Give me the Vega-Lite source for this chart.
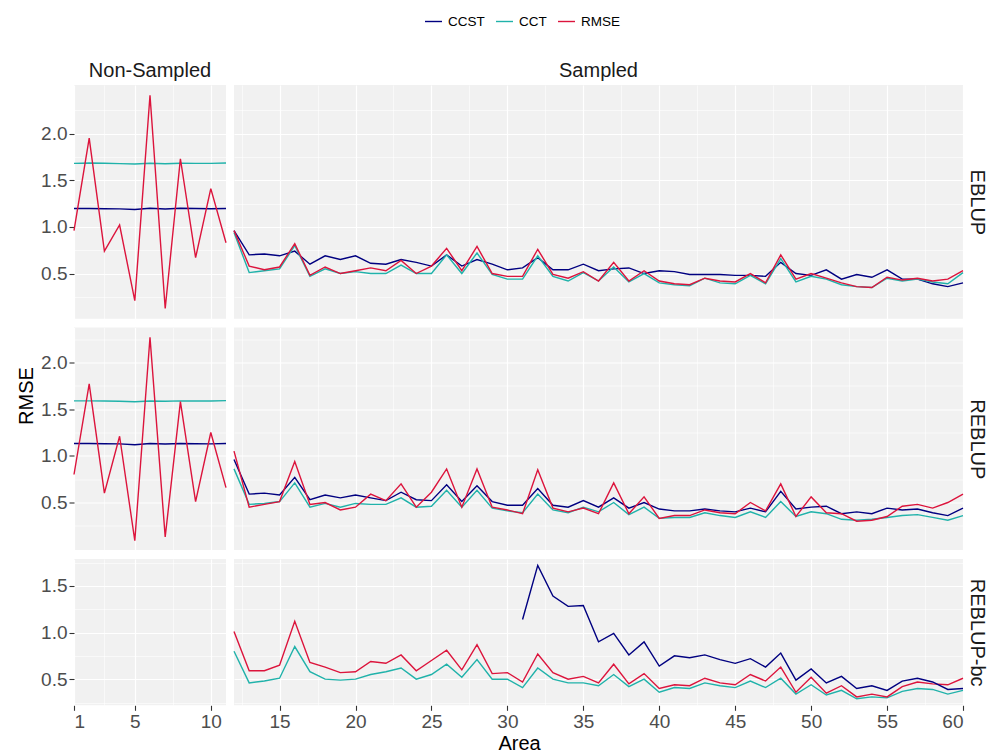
{
  "$schema": "https://vega.github.io/schema/vega-lite/v6.json",
  "background": "white",
  "padding": {"left": 16, "top": 12, "right": 4, "bottom": 2},
  "columns": 2,
  "align": "each",
  "bounds": "flush",
  "spacing": {"row": 8.5, "column": 8},
  "resolve": {"scale": {"x": "independent", "y": "independent"}},
  "config": {
    "font": "Liberation Sans",
    "view": {"fill": "#F1F1F1", "stroke": null},
    "axis": {
      "domain": false,
      "labelFont": "Liberation Sans",
      "labelFontSize": 19,
      "labelColor": "#4D4D4D",
      "labelOverlap": false,
      "labelPadding": 2,
      "tickColor": "#333333",
      "tickSize": 5,
      "tickWidth": 1.1,
      "gridColor": "#FFFFFF",
      "titleFont": "Liberation Sans",
      "titleFontSize": 20,
      "titleFontWeight": "normal",
      "titleColor": "#000000"
    },
    "title": {"font": "Liberation Sans", "fontSize": 20, "fontWeight": "normal", "color": "#1A1A1A", "anchor": "middle", "frame": "group", "offset": 4},
    "line": {"strokeWidth": 1.4}
  },
  "datasets": {
    "EBLUP": [
      {"a":1,"s":"CCST","v":1.196},{"a":1,"s":"CCT","v":1.68},{"a":1,"s":"RMSE","v":0.96},
      {"a":2,"s":"CCST","v":1.196},{"a":2,"s":"CCT","v":1.684},{"a":2,"s":"RMSE","v":1.95},
      {"a":3,"s":"CCST","v":1.194},{"a":3,"s":"CCT","v":1.682},{"a":3,"s":"RMSE","v":0.74},
      {"a":4,"s":"CCST","v":1.193},{"a":4,"s":"CCT","v":1.678},{"a":4,"s":"RMSE","v":1.02},
      {"a":5,"s":"CCST","v":1.186},{"a":5,"s":"CCT","v":1.674},{"a":5,"s":"RMSE","v":0.21},
      {"a":6,"s":"CCST","v":1.2},{"a":6,"s":"CCT","v":1.682},{"a":6,"s":"RMSE","v":2.41},
      {"a":7,"s":"CCST","v":1.192},{"a":7,"s":"CCT","v":1.676},{"a":7,"s":"RMSE","v":0.125},
      {"a":8,"s":"CCST","v":1.2},{"a":8,"s":"CCT","v":1.682},{"a":8,"s":"RMSE","v":1.73},
      {"a":9,"s":"CCST","v":1.196},{"a":9,"s":"CCT","v":1.68},{"a":9,"s":"RMSE","v":0.67},
      {"a":10,"s":"CCST","v":1.194},{"a":10,"s":"CCT","v":1.68},{"a":10,"s":"RMSE","v":1.41},
      {"a":11,"s":"CCST","v":1.196},{"a":11,"s":"CCT","v":1.684},{"a":11,"s":"RMSE","v":0.83},
      {"a":12,"s":"CCST","v":0.96},{"a":12,"s":"CCT","v":0.94},{"a":12,"s":"RMSE","v":0.96},
      {"a":13,"s":"CCST","v":0.7},{"a":13,"s":"CCT","v":0.51},{"a":13,"s":"RMSE","v":0.58},
      {"a":14,"s":"CCST","v":0.71},{"a":14,"s":"CCT","v":0.53},{"a":14,"s":"RMSE","v":0.54},
      {"a":15,"s":"CCST","v":0.69},{"a":15,"s":"CCT","v":0.55},{"a":15,"s":"RMSE","v":0.57},
      {"a":16,"s":"CCST","v":0.74},{"a":16,"s":"CCT","v":0.8},{"a":16,"s":"RMSE","v":0.82},
      {"a":17,"s":"CCST","v":0.6},{"a":17,"s":"CCT","v":0.47},{"a":17,"s":"RMSE","v":0.48},
      {"a":18,"s":"CCST","v":0.69},{"a":18,"s":"CCT","v":0.55},{"a":18,"s":"RMSE","v":0.57},
      {"a":19,"s":"CCST","v":0.65},{"a":19,"s":"CCT","v":0.5},{"a":19,"s":"RMSE","v":0.5},
      {"a":20,"s":"CCST","v":0.69},{"a":20,"s":"CCT","v":0.52},{"a":20,"s":"RMSE","v":0.53},
      {"a":21,"s":"CCST","v":0.61},{"a":21,"s":"CCT","v":0.5},{"a":21,"s":"RMSE","v":0.56},
      {"a":22,"s":"CCST","v":0.6},{"a":22,"s":"CCT","v":0.5},{"a":22,"s":"RMSE","v":0.53},
      {"a":23,"s":"CCST","v":0.65},{"a":23,"s":"CCT","v":0.59},{"a":23,"s":"RMSE","v":0.64},
      {"a":24,"s":"CCST","v":0.62},{"a":24,"s":"CCT","v":0.5},{"a":24,"s":"RMSE","v":0.5},
      {"a":25,"s":"CCST","v":0.58},{"a":25,"s":"CCT","v":0.5},{"a":25,"s":"RMSE","v":0.58},
      {"a":26,"s":"CCST","v":0.7},{"a":26,"s":"CCT","v":0.7},{"a":26,"s":"RMSE","v":0.77},
      {"a":27,"s":"CCST","v":0.58},{"a":27,"s":"CCT","v":0.5},{"a":27,"s":"RMSE","v":0.53},
      {"a":28,"s":"CCST","v":0.65},{"a":28,"s":"CCT","v":0.72},{"a":28,"s":"RMSE","v":0.79},
      {"a":29,"s":"CCST","v":0.6},{"a":29,"s":"CCT","v":0.49},{"a":29,"s":"RMSE","v":0.5},
      {"a":30,"s":"CCST","v":0.54},{"a":30,"s":"CCT","v":0.44},{"a":30,"s":"RMSE","v":0.47},
      {"a":31,"s":"CCST","v":0.56},{"a":31,"s":"CCT","v":0.44},{"a":31,"s":"RMSE","v":0.47},
      {"a":32,"s":"CCST","v":0.67},{"a":32,"s":"CCT","v":0.69},{"a":32,"s":"RMSE","v":0.76},
      {"a":33,"s":"CCST","v":0.54},{"a":33,"s":"CCT","v":0.47},{"a":33,"s":"RMSE","v":0.49},
      {"a":34,"s":"CCST","v":0.54},{"a":34,"s":"CCT","v":0.42},{"a":34,"s":"RMSE","v":0.45},
      {"a":35,"s":"CCST","v":0.6},{"a":35,"s":"CCT","v":0.51},{"a":35,"s":"RMSE","v":0.52},
      {"a":36,"s":"CCST","v":0.53},{"a":36,"s":"CCT","v":0.42},{"a":36,"s":"RMSE","v":0.42},
      {"a":37,"s":"CCST","v":0.55},{"a":37,"s":"CCT","v":0.57},{"a":37,"s":"RMSE","v":0.62},
      {"a":38,"s":"CCST","v":0.56},{"a":38,"s":"CCT","v":0.41},{"a":38,"s":"RMSE","v":0.42},
      {"a":39,"s":"CCST","v":0.5},{"a":39,"s":"CCT","v":0.5},{"a":39,"s":"RMSE","v":0.53},
      {"a":40,"s":"CCST","v":0.53},{"a":40,"s":"CCT","v":0.4},{"a":40,"s":"RMSE","v":0.42},
      {"a":41,"s":"CCST","v":0.52},{"a":41,"s":"CCT","v":0.38},{"a":41,"s":"RMSE","v":0.39},
      {"a":42,"s":"CCST","v":0.49},{"a":42,"s":"CCT","v":0.37},{"a":42,"s":"RMSE","v":0.38},
      {"a":43,"s":"CCST","v":0.49},{"a":43,"s":"CCT","v":0.45},{"a":43,"s":"RMSE","v":0.45},
      {"a":44,"s":"CCST","v":0.49},{"a":44,"s":"CCT","v":0.4},{"a":44,"s":"RMSE","v":0.42},
      {"a":45,"s":"CCST","v":0.48},{"a":45,"s":"CCT","v":0.39},{"a":45,"s":"RMSE","v":0.41},
      {"a":46,"s":"CCST","v":0.48},{"a":46,"s":"CCT","v":0.48},{"a":46,"s":"RMSE","v":0.5},
      {"a":47,"s":"CCST","v":0.47},{"a":47,"s":"CCT","v":0.39},{"a":47,"s":"RMSE","v":0.4},
      {"a":48,"s":"CCST","v":0.62},{"a":48,"s":"CCT","v":0.66},{"a":48,"s":"RMSE","v":0.7},
      {"a":49,"s":"CCST","v":0.5},{"a":49,"s":"CCT","v":0.41},{"a":49,"s":"RMSE","v":0.44},
      {"a":50,"s":"CCST","v":0.48},{"a":50,"s":"CCT","v":0.47},{"a":50,"s":"RMSE","v":0.5},
      {"a":51,"s":"CCST","v":0.54},{"a":51,"s":"CCT","v":0.44},{"a":51,"s":"RMSE","v":0.45},
      {"a":52,"s":"CCST","v":0.44},{"a":52,"s":"CCT","v":0.38},{"a":52,"s":"RMSE","v":0.4},
      {"a":53,"s":"CCST","v":0.49},{"a":53,"s":"CCT","v":0.36},{"a":53,"s":"RMSE","v":0.36},
      {"a":54,"s":"CCST","v":0.46},{"a":54,"s":"CCT","v":0.35},{"a":54,"s":"RMSE","v":0.35},
      {"a":55,"s":"CCST","v":0.54},{"a":55,"s":"CCT","v":0.45},{"a":55,"s":"RMSE","v":0.46},
      {"a":56,"s":"CCST","v":0.44},{"a":56,"s":"CCT","v":0.42},{"a":56,"s":"RMSE","v":0.43},
      {"a":57,"s":"CCST","v":0.44},{"a":57,"s":"CCT","v":0.44},{"a":57,"s":"RMSE","v":0.45},
      {"a":58,"s":"CCST","v":0.39},{"a":58,"s":"CCT","v":0.41},{"a":58,"s":"RMSE","v":0.42},
      {"a":59,"s":"CCST","v":0.36},{"a":59,"s":"CCT","v":0.39},{"a":59,"s":"RMSE","v":0.44},
      {"a":60,"s":"CCST","v":0.4},{"a":60,"s":"CCT","v":0.51},{"a":60,"s":"RMSE","v":0.53}
    ],
    "REBLUP": [
      {"a":1,"s":"CCST","v":1.132},{"a":1,"s":"CCT","v":1.589},{"a":1,"s":"RMSE","v":0.8},
      {"a":2,"s":"CCST","v":1.132},{"a":2,"s":"CCT","v":1.589},{"a":2,"s":"RMSE","v":1.77},
      {"a":3,"s":"CCST","v":1.13},{"a":3,"s":"CCT","v":1.587},{"a":3,"s":"RMSE","v":0.6},
      {"a":4,"s":"CCST","v":1.128},{"a":4,"s":"CCT","v":1.585},{"a":4,"s":"RMSE","v":1.21},
      {"a":5,"s":"CCST","v":1.118},{"a":5,"s":"CCT","v":1.58},{"a":5,"s":"RMSE","v":0.09},
      {"a":6,"s":"CCST","v":1.132},{"a":6,"s":"CCT","v":1.587},{"a":6,"s":"RMSE","v":2.27},
      {"a":7,"s":"CCST","v":1.126},{"a":7,"s":"CCT","v":1.585},{"a":7,"s":"RMSE","v":0.13},
      {"a":8,"s":"CCST","v":1.132},{"a":8,"s":"CCT","v":1.589},{"a":8,"s":"RMSE","v":1.58},
      {"a":9,"s":"CCST","v":1.13},{"a":9,"s":"CCT","v":1.587},{"a":9,"s":"RMSE","v":0.51},
      {"a":10,"s":"CCST","v":1.128},{"a":10,"s":"CCT","v":1.587},{"a":10,"s":"RMSE","v":1.25},
      {"a":11,"s":"CCST","v":1.132},{"a":11,"s":"CCT","v":1.591},{"a":11,"s":"RMSE","v":0.66},
      {"a":12,"s":"CCST","v":0.96},{"a":12,"s":"CCT","v":0.86},{"a":12,"s":"RMSE","v":1.05},
      {"a":13,"s":"CCST","v":0.59},{"a":13,"s":"CCT","v":0.48},{"a":13,"s":"RMSE","v":0.45},
      {"a":14,"s":"CCST","v":0.6},{"a":14,"s":"CCT","v":0.49},{"a":14,"s":"RMSE","v":0.48},
      {"a":15,"s":"CCST","v":0.58},{"a":15,"s":"CCT","v":0.51},{"a":15,"s":"RMSE","v":0.51},
      {"a":16,"s":"CCST","v":0.77},{"a":16,"s":"CCT","v":0.71},{"a":16,"s":"RMSE","v":0.94},
      {"a":17,"s":"CCST","v":0.53},{"a":17,"s":"CCT","v":0.45},{"a":17,"s":"RMSE","v":0.48},
      {"a":18,"s":"CCST","v":0.58},{"a":18,"s":"CCT","v":0.49},{"a":18,"s":"RMSE","v":0.5},
      {"a":19,"s":"CCST","v":0.55},{"a":19,"s":"CCT","v":0.45},{"a":19,"s":"RMSE","v":0.42},
      {"a":20,"s":"CCST","v":0.58},{"a":20,"s":"CCT","v":0.49},{"a":20,"s":"RMSE","v":0.45},
      {"a":21,"s":"CCST","v":0.55},{"a":21,"s":"CCT","v":0.48},{"a":21,"s":"RMSE","v":0.59},
      {"a":22,"s":"CCST","v":0.52},{"a":22,"s":"CCT","v":0.48},{"a":22,"s":"RMSE","v":0.52},
      {"a":23,"s":"CCST","v":0.61},{"a":23,"s":"CCT","v":0.55},{"a":23,"s":"RMSE","v":0.7},
      {"a":24,"s":"CCST","v":0.53},{"a":24,"s":"CCT","v":0.45},{"a":24,"s":"RMSE","v":0.45},
      {"a":25,"s":"CCST","v":0.52},{"a":25,"s":"CCT","v":0.46},{"a":25,"s":"RMSE","v":0.61},
      {"a":26,"s":"CCST","v":0.69},{"a":26,"s":"CCT","v":0.63},{"a":26,"s":"RMSE","v":0.86},
      {"a":27,"s":"CCST","v":0.51},{"a":27,"s":"CCT","v":0.45},{"a":27,"s":"RMSE","v":0.45},
      {"a":28,"s":"CCST","v":0.68},{"a":28,"s":"CCT","v":0.63},{"a":28,"s":"RMSE","v":0.86},
      {"a":29,"s":"CCST","v":0.51},{"a":29,"s":"CCT","v":0.44},{"a":29,"s":"RMSE","v":0.45},
      {"a":30,"s":"CCST","v":0.47},{"a":30,"s":"CCT","v":0.41},{"a":30,"s":"RMSE","v":0.42},
      {"a":31,"s":"CCST","v":0.47},{"a":31,"s":"CCT","v":0.39},{"a":31,"s":"RMSE","v":0.38},
      {"a":32,"s":"CCST","v":0.65},{"a":32,"s":"CCT","v":0.59},{"a":32,"s":"RMSE","v":0.85},
      {"a":33,"s":"CCST","v":0.47},{"a":33,"s":"CCT","v":0.42},{"a":33,"s":"RMSE","v":0.44},
      {"a":34,"s":"CCST","v":0.45},{"a":34,"s":"CCT","v":0.39},{"a":34,"s":"RMSE","v":0.4},
      {"a":35,"s":"CCST","v":0.52},{"a":35,"s":"CCT","v":0.45},{"a":35,"s":"RMSE","v":0.44},
      {"a":36,"s":"CCST","v":0.45},{"a":36,"s":"CCT","v":0.4},{"a":36,"s":"RMSE","v":0.38},
      {"a":37,"s":"CCST","v":0.55},{"a":37,"s":"CCT","v":0.5},{"a":37,"s":"RMSE","v":0.71},
      {"a":38,"s":"CCST","v":0.44},{"a":38,"s":"CCT","v":0.37},{"a":38,"s":"RMSE","v":0.38},
      {"a":39,"s":"CCST","v":0.5},{"a":39,"s":"CCT","v":0.45},{"a":39,"s":"RMSE","v":0.56},
      {"a":40,"s":"CCST","v":0.43},{"a":40,"s":"CCT","v":0.33},{"a":40,"s":"RMSE","v":0.33},
      {"a":41,"s":"CCST","v":0.41},{"a":41,"s":"CCT","v":0.34},{"a":41,"s":"RMSE","v":0.36},
      {"a":42,"s":"CCST","v":0.41},{"a":42,"s":"CCT","v":0.34},{"a":42,"s":"RMSE","v":0.36},
      {"a":43,"s":"CCST","v":0.43},{"a":43,"s":"CCT","v":0.39},{"a":43,"s":"RMSE","v":0.42},
      {"a":44,"s":"CCST","v":0.41},{"a":44,"s":"CCT","v":0.36},{"a":44,"s":"RMSE","v":0.39},
      {"a":45,"s":"CCST","v":0.4},{"a":45,"s":"CCT","v":0.34},{"a":45,"s":"RMSE","v":0.38},
      {"a":46,"s":"CCST","v":0.44},{"a":46,"s":"CCT","v":0.4},{"a":46,"s":"RMSE","v":0.5},
      {"a":47,"s":"CCST","v":0.4},{"a":47,"s":"CCT","v":0.34},{"a":47,"s":"RMSE","v":0.41},
      {"a":48,"s":"CCST","v":0.62},{"a":48,"s":"CCT","v":0.51},{"a":48,"s":"RMSE","v":0.7},
      {"a":49,"s":"CCST","v":0.43},{"a":49,"s":"CCT","v":0.35},{"a":49,"s":"RMSE","v":0.35},
      {"a":50,"s":"CCST","v":0.45},{"a":50,"s":"CCT","v":0.4},{"a":50,"s":"RMSE","v":0.56},
      {"a":51,"s":"CCST","v":0.46},{"a":51,"s":"CCT","v":0.38},{"a":51,"s":"RMSE","v":0.39},
      {"a":52,"s":"CCST","v":0.38},{"a":52,"s":"CCT","v":0.32},{"a":52,"s":"RMSE","v":0.38},
      {"a":53,"s":"CCST","v":0.4},{"a":53,"s":"CCT","v":0.31},{"a":53,"s":"RMSE","v":0.3},
      {"a":54,"s":"CCST","v":0.38},{"a":54,"s":"CCT","v":0.32},{"a":54,"s":"RMSE","v":0.31},
      {"a":55,"s":"CCST","v":0.44},{"a":55,"s":"CCT","v":0.34},{"a":55,"s":"RMSE","v":0.35},
      {"a":56,"s":"CCST","v":0.42},{"a":56,"s":"CCT","v":0.36},{"a":56,"s":"RMSE","v":0.46},
      {"a":57,"s":"CCST","v":0.43},{"a":57,"s":"CCT","v":0.37},{"a":57,"s":"RMSE","v":0.48},
      {"a":58,"s":"CCST","v":0.39},{"a":58,"s":"CCT","v":0.34},{"a":58,"s":"RMSE","v":0.44},
      {"a":59,"s":"CCST","v":0.36},{"a":59,"s":"CCT","v":0.31},{"a":59,"s":"RMSE","v":0.5},
      {"a":60,"s":"CCST","v":0.44},{"a":60,"s":"CCT","v":0.36},{"a":60,"s":"RMSE","v":0.59}
    ],
    "REBLUPbc": [
      {"a":12,"s":"CCT","v":0.8},{"a":12,"s":"RMSE","v":1.01},
      {"a":13,"s":"CCT","v":0.46},{"a":13,"s":"RMSE","v":0.59},
      {"a":14,"s":"CCT","v":0.48},{"a":14,"s":"RMSE","v":0.59},
      {"a":15,"s":"CCT","v":0.51},{"a":15,"s":"RMSE","v":0.65},
      {"a":16,"s":"CCT","v":0.85},{"a":16,"s":"RMSE","v":1.12},
      {"a":17,"s":"CCT","v":0.58},{"a":17,"s":"RMSE","v":0.68},
      {"a":18,"s":"CCT","v":0.5},{"a":18,"s":"RMSE","v":0.63},
      {"a":19,"s":"CCT","v":0.49},{"a":19,"s":"RMSE","v":0.57},
      {"a":20,"s":"CCT","v":0.5},{"a":20,"s":"RMSE","v":0.58},
      {"a":21,"s":"CCT","v":0.55},{"a":21,"s":"RMSE","v":0.69},
      {"a":22,"s":"CCT","v":0.58},{"a":22,"s":"RMSE","v":0.67},
      {"a":23,"s":"CCT","v":0.62},{"a":23,"s":"RMSE","v":0.76},
      {"a":24,"s":"CCT","v":0.5},{"a":24,"s":"RMSE","v":0.59},
      {"a":25,"s":"CCT","v":0.55},{"a":25,"s":"RMSE","v":0.7},
      {"a":26,"s":"CCT","v":0.66},{"a":26,"s":"RMSE","v":0.81},
      {"a":27,"s":"CCT","v":0.52},{"a":27,"s":"RMSE","v":0.6},
      {"a":28,"s":"CCT","v":0.71},{"a":28,"s":"RMSE","v":0.87},
      {"a":29,"s":"CCT","v":0.5},{"a":29,"s":"RMSE","v":0.56},
      {"a":30,"s":"CCT","v":0.5},{"a":30,"s":"RMSE","v":0.57},
      {"a":31,"s":"CCST","v":1.14},{"a":31,"s":"CCT","v":0.41},{"a":31,"s":"RMSE","v":0.47},
      {"a":32,"s":"CCST","v":1.72},{"a":32,"s":"CCT","v":0.62},{"a":32,"s":"RMSE","v":0.77},
      {"a":33,"s":"CCST","v":1.39},{"a":33,"s":"CCT","v":0.5},{"a":33,"s":"RMSE","v":0.57},
      {"a":34,"s":"CCST","v":1.28},{"a":34,"s":"CCT","v":0.46},{"a":34,"s":"RMSE","v":0.5},
      {"a":35,"s":"CCST","v":1.29},{"a":35,"s":"CCT","v":0.46},{"a":35,"s":"RMSE","v":0.53},
      {"a":36,"s":"CCST","v":0.9},{"a":36,"s":"CCT","v":0.43},{"a":36,"s":"RMSE","v":0.46},
      {"a":37,"s":"CCST","v":0.99},{"a":37,"s":"CCT","v":0.55},{"a":37,"s":"RMSE","v":0.66},
      {"a":38,"s":"CCST","v":0.76},{"a":38,"s":"CCT","v":0.42},{"a":38,"s":"RMSE","v":0.45},
      {"a":39,"s":"CCST","v":0.9},{"a":39,"s":"CCT","v":0.5},{"a":39,"s":"RMSE","v":0.56},
      {"a":40,"s":"CCST","v":0.64},{"a":40,"s":"CCT","v":0.36},{"a":40,"s":"RMSE","v":0.4},
      {"a":41,"s":"CCST","v":0.75},{"a":41,"s":"CCT","v":0.41},{"a":41,"s":"RMSE","v":0.44},
      {"a":42,"s":"CCST","v":0.73},{"a":42,"s":"CCT","v":0.4},{"a":42,"s":"RMSE","v":0.43},
      {"a":43,"s":"CCST","v":0.76},{"a":43,"s":"CCT","v":0.46},{"a":43,"s":"RMSE","v":0.51},
      {"a":44,"s":"CCST","v":0.71},{"a":44,"s":"CCT","v":0.43},{"a":44,"s":"RMSE","v":0.46},
      {"a":45,"s":"CCST","v":0.67},{"a":45,"s":"CCT","v":0.41},{"a":45,"s":"RMSE","v":0.44},
      {"a":46,"s":"CCST","v":0.72},{"a":46,"s":"CCT","v":0.48},{"a":46,"s":"RMSE","v":0.55},
      {"a":47,"s":"CCST","v":0.63},{"a":47,"s":"CCT","v":0.41},{"a":47,"s":"RMSE","v":0.48},
      {"a":48,"s":"CCST","v":0.78},{"a":48,"s":"CCT","v":0.51},{"a":48,"s":"RMSE","v":0.63},
      {"a":49,"s":"CCST","v":0.49},{"a":49,"s":"CCT","v":0.34},{"a":49,"s":"RMSE","v":0.36},
      {"a":50,"s":"CCST","v":0.61},{"a":50,"s":"CCT","v":0.44},{"a":50,"s":"RMSE","v":0.52},
      {"a":51,"s":"CCST","v":0.46},{"a":51,"s":"CCT","v":0.33},{"a":51,"s":"RMSE","v":0.35},
      {"a":52,"s":"CCST","v":0.53},{"a":52,"s":"CCT","v":0.38},{"a":52,"s":"RMSE","v":0.43},
      {"a":53,"s":"CCST","v":0.4},{"a":53,"s":"CCT","v":0.29},{"a":53,"s":"RMSE","v":0.31},
      {"a":54,"s":"CCST","v":0.43},{"a":54,"s":"CCT","v":0.31},{"a":54,"s":"RMSE","v":0.34},
      {"a":55,"s":"CCST","v":0.38},{"a":55,"s":"CCT","v":0.3},{"a":55,"s":"RMSE","v":0.31},
      {"a":56,"s":"CCST","v":0.48},{"a":56,"s":"CCT","v":0.37},{"a":56,"s":"RMSE","v":0.42},
      {"a":57,"s":"CCST","v":0.51},{"a":57,"s":"CCT","v":0.4},{"a":57,"s":"RMSE","v":0.47},
      {"a":58,"s":"CCST","v":0.47},{"a":58,"s":"CCT","v":0.39},{"a":58,"s":"RMSE","v":0.45},
      {"a":59,"s":"CCST","v":0.39},{"a":59,"s":"CCT","v":0.34},{"a":59,"s":"RMSE","v":0.44},
      {"a":60,"s":"CCST","v":0.4},{"a":60,"s":"CCT","v":0.38},{"a":60,"s":"RMSE","v":0.51}
    ]
  },
  "concat": [
    {
      "width": 152, "height": 233.8,
      "title": "Non-Sampled",
      "data": {"name": "EBLUP"},
      "transform": [{"filter": "datum.a <= 11"}],
      "mark": {"type": "line"},
      "encoding": {
        "x": {"field": "a", "type": "quantitative", "scale": {"domain": [1, 11], "nice": false, "zero": false},
          "axis": {"title": null, "values": [1, 3, 5, 7.5, 10], "labels": false, "ticks": false,
            "gridWidth": {"condition": {"test": "datum.value == 1 || datum.value == 5 || datum.value == 10", "value": 1.2}, "value": 0.6}}},
        "y": {"field": "v", "type": "quantitative", "scale": {"domain": [0.015, 2.52], "nice": false, "zero": false},
          "axis": {"title": null, "values": [0.25, 0.5, 0.75, 1, 1.25, 1.5, 1.75, 2, 2.25],
            "labelExpr": "datum.value % 0.5 == 0 ? format(datum.value, '.1f') : ''",
            "tickOpacity": {"condition": {"test": "datum.value % 0.5 == 0", "value": 1}, "value": 0},
            "gridWidth": {"condition": {"test": "datum.value % 0.5 == 0", "value": 1.2}, "value": 0.6}}},
        "color": {"field": "s", "type": "nominal",
          "scale": {"domain": ["CCST", "CCT", "RMSE"], "range": ["#000080", "#20B2AA", "#DC143C"]},
          "legend": {"orient": "none", "legendX": 350, "legendY": -73, "direction": "horizontal", "title": null,
            "symbolType": "stroke", "symbolSize": 289, "symbolStrokeWidth": 1.6, "labelFont": "Liberation Sans",
            "labelFontSize": 13.5, "labelColor": "#000000", "labelOffset": 5, "columnPadding": 8, "padding": 0}}
      }
    },
    {
      "width": 729, "height": 233.8,
      "title": "Sampled",
      "data": {"name": "EBLUP"},
      "transform": [{"filter": "datum.a >= 12"}],
      "mark": {"type": "line"},
      "encoding": {
        "x": {"field": "a", "type": "quantitative", "scale": {"domain": [12, 60], "nice": false, "zero": false},
          "axis": {"title": null, "values": [12.5, 15, 17.5, 20, 22.5, 25, 27.5, 30, 32.5, 35, 37.5, 40, 42.5, 45, 47.5, 50, 52.5, 55, 57.5, 60],
            "labels": false, "ticks": false,
            "gridWidth": {"condition": {"test": "datum.value % 5 == 0", "value": 1.2}, "value": 0.6}}},
        "y": {"field": "v", "type": "quantitative", "scale": {"domain": [0.015, 2.52], "nice": false, "zero": false},
          "axis": {"orient": "right", "title": "EBLUP", "titleColor": "#1A1A1A", "titlePadding": 3, "labels": false, "ticks": false,
            "values": [0.25, 0.5, 0.75, 1, 1.25, 1.5, 1.75, 2, 2.25],
            "gridWidth": {"condition": {"test": "datum.value % 0.5 == 0", "value": 1.2}, "value": 0.6}}},
        "color": {"field": "s", "type": "nominal", "scale": {"domain": ["CCST", "CCT", "RMSE"], "range": ["#000080", "#20B2AA", "#DC143C"]}}
      }
    },
    {
      "width": 152, "height": 222.6,
      "data": {"name": "REBLUP"},
      "transform": [{"filter": "datum.a <= 11"}],
      "mark": {"type": "line"},
      "encoding": {
        "x": {"field": "a", "type": "quantitative", "scale": {"domain": [1, 11], "nice": false, "zero": false},
          "axis": {"title": null, "values": [1, 3, 5, 7.5, 10], "labels": false, "ticks": false,
            "gridWidth": {"condition": {"test": "datum.value == 1 || datum.value == 5 || datum.value == 10", "value": 1.2}, "value": 0.6}}},
        "y": {"field": "v", "type": "quantitative", "scale": {"domain": [-0.01, 2.375], "nice": false, "zero": false},
          "axis": {"title": "RMSE", "titlePadding": 4, "titleY": 68, "values": [0.25, 0.5, 0.75, 1, 1.25, 1.5, 1.75, 2, 2.25],
            "labelExpr": "datum.value % 0.5 == 0 ? format(datum.value, '.1f') : ''",
            "tickOpacity": {"condition": {"test": "datum.value % 0.5 == 0", "value": 1}, "value": 0},
            "gridWidth": {"condition": {"test": "datum.value % 0.5 == 0", "value": 1.2}, "value": 0.6}}},
        "color": {"field": "s", "type": "nominal", "scale": {"domain": ["CCST", "CCT", "RMSE"], "range": ["#000080", "#20B2AA", "#DC143C"]}}
      }
    },
    {
      "width": 729, "height": 222.6,
      "data": {"name": "REBLUP"},
      "transform": [{"filter": "datum.a >= 12"}],
      "mark": {"type": "line"},
      "encoding": {
        "x": {"field": "a", "type": "quantitative", "scale": {"domain": [12, 60], "nice": false, "zero": false},
          "axis": {"title": null, "values": [12.5, 15, 17.5, 20, 22.5, 25, 27.5, 30, 32.5, 35, 37.5, 40, 42.5, 45, 47.5, 50, 52.5, 55, 57.5, 60],
            "labels": false, "ticks": false,
            "gridWidth": {"condition": {"test": "datum.value % 5 == 0", "value": 1.2}, "value": 0.6}}},
        "y": {"field": "v", "type": "quantitative", "scale": {"domain": [-0.01, 2.375], "nice": false, "zero": false},
          "axis": {"orient": "right", "title": "REBLUP", "titleColor": "#1A1A1A", "titlePadding": 3, "labels": false, "ticks": false,
            "values": [0.25, 0.5, 0.75, 1, 1.25, 1.5, 1.75, 2, 2.25],
            "gridWidth": {"condition": {"test": "datum.value % 0.5 == 0", "value": 1.2}, "value": 0.6}}},
        "color": {"field": "s", "type": "nominal", "scale": {"domain": ["CCST", "CCT", "RMSE"], "range": ["#000080", "#20B2AA", "#DC143C"]}}
      }
    },
    {
      "width": 152, "height": 146.3,
      "data": {"name": "REBLUPbc"},
      "transform": [{"filter": "datum.a <= 11"}],
      "mark": {"type": "line"},
      "encoding": {
        "x": {"field": "a", "type": "quantitative", "scale": {"domain": [1, 11], "nice": false, "zero": false},
          "axis": {"title": null, "values": [1, 3, 5, 7.5, 10],
            "labelExpr": "datum.value == 1 || datum.value == 5 || datum.value == 10 ? format(datum.value, 'd') : ''",
            "tickOpacity": {"condition": {"test": "datum.value == 1 || datum.value == 5 || datum.value == 10", "value": 1}, "value": 0},
            "gridWidth": {"condition": {"test": "datum.value == 1 || datum.value == 5 || datum.value == 10", "value": 1.2}, "value": 0.6}}},
        "y": {"field": "v", "type": "quantitative", "scale": {"domain": [0.22, 1.788], "nice": false, "zero": false},
          "axis": {"title": null, "values": [0.25, 0.5, 0.75, 1, 1.25, 1.5, 1.75],
            "labelExpr": "datum.value % 0.5 == 0 ? format(datum.value, '.1f') : ''",
            "tickOpacity": {"condition": {"test": "datum.value % 0.5 == 0", "value": 1}, "value": 0},
            "gridWidth": {"condition": {"test": "datum.value % 0.5 == 0", "value": 1.2}, "value": 0.6}}},
        "color": {"field": "s", "type": "nominal", "scale": {"domain": ["CCST", "CCT", "RMSE"], "range": ["#000080", "#20B2AA", "#DC143C"]}}
      }
    },
    {
      "width": 729, "height": 146.3,
      "data": {"name": "REBLUPbc"},
      "transform": [{"filter": "datum.a >= 12"}],
      "mark": {"type": "line"},
      "encoding": {
        "x": {"field": "a", "type": "quantitative", "scale": {"domain": [12, 60], "nice": false, "zero": false},
          "axis": {"title": "Area", "titleX": 285, "titlePadding": 2,
            "values": [12.5, 15, 17.5, 20, 22.5, 25, 27.5, 30, 32.5, 35, 37.5, 40, 42.5, 45, 47.5, 50, 52.5, 55, 57.5, 60],
            "labelExpr": "datum.value % 5 == 0 ? format(datum.value, 'd') : ''",
            "tickOpacity": {"condition": {"test": "datum.value % 5 == 0", "value": 1}, "value": 0},
            "gridWidth": {"condition": {"test": "datum.value % 5 == 0", "value": 1.2}, "value": 0.6}}},
        "y": {"field": "v", "type": "quantitative", "scale": {"domain": [0.22, 1.788], "nice": false, "zero": false},
          "axis": {"orient": "right", "title": "REBLUP-bc", "titleColor": "#1A1A1A", "titlePadding": 3, "labels": false, "ticks": false,
            "values": [0.25, 0.5, 0.75, 1, 1.25, 1.5, 1.75],
            "gridWidth": {"condition": {"test": "datum.value % 0.5 == 0", "value": 1.2}, "value": 0.6}}},
        "color": {"field": "s", "type": "nominal", "scale": {"domain": ["CCST", "CCT", "RMSE"], "range": ["#000080", "#20B2AA", "#DC143C"]}}
      }
    }
  ]
}
